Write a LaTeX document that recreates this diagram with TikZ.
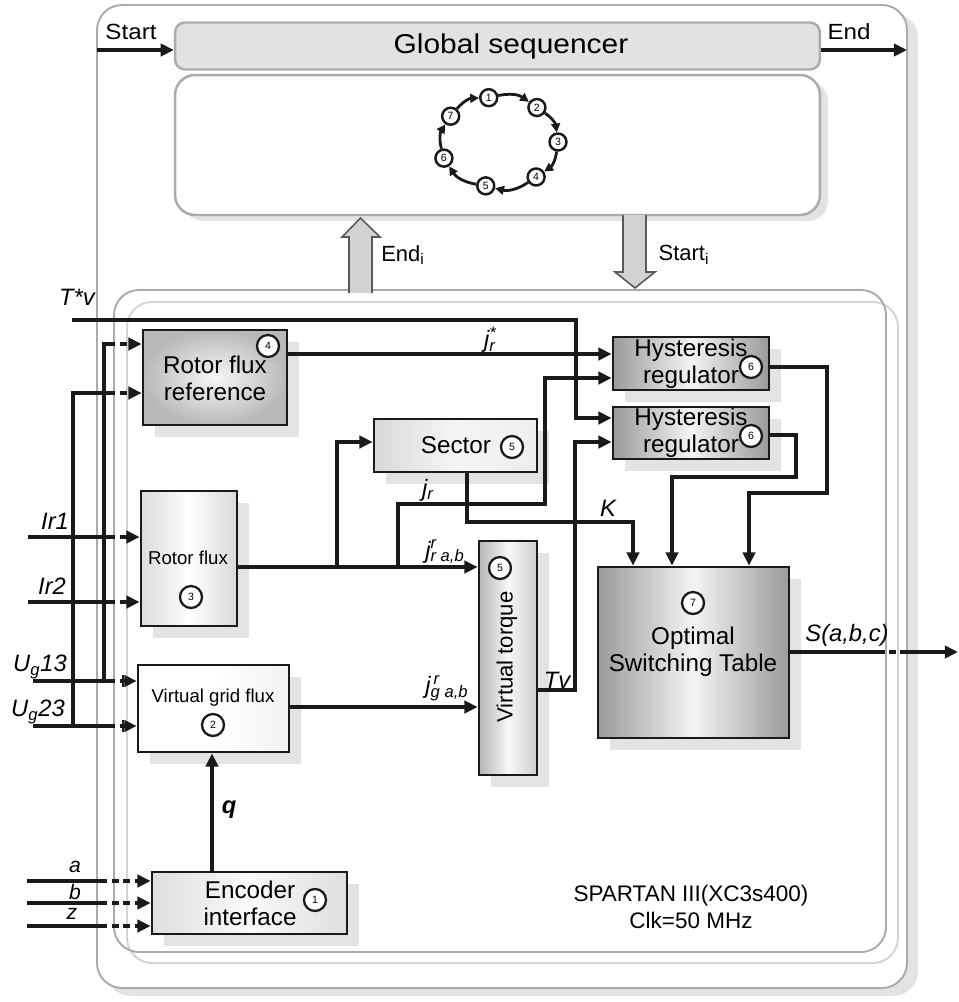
\documentclass[tikz,border=0pt]{standalone}
\usepackage{fontspec}
\setmainfont{Liberation Sans}
\newfontfamily\widesans{Liberation Sans}[FakeStretch=1.1]
\usetikzlibrary{arrows.meta,positioning,calc,shadows}
\definecolor{wirec}{HTML}{1A1A1A}
\definecolor{frgrey}{HTML}{ABABAB}
\definecolor{frlight}{HTML}{D4D4D4}
\definecolor{seqfill}{HTML}{E2E2E2}
\definecolor{boxdark}{HTML}{9A9A9A}
\definecolor{boxlight}{HTML}{F4F4F4}
\definecolor{shadowgrey}{HTML}{E3E3E3}
\definecolor{arrowfill}{HTML}{D2D2D2}

\begin{document}
\begin{tikzpicture}[x=0.02cm,y=-0.02cm,
  wire/.style={draw=wirec,line width=2.2pt},
  tip/.style={-{Triangle[length=7.5pt,width=7pt]}},
  bartip/.style={-{Bar[width=7pt,line width=1.1pt]Triangle[length=7pt,width=6.5pt]}},
  pass/.style={dash pattern=on 4pt off 2.6pt},
  frame/.style={line width=1.1pt,rounded corners=0.5cm},
  boxshadow/.style={drop shadow={shadow xshift=0.24cm,shadow yshift=-0.24cm,fill=shadowgrey,opacity=1}},
  darkbox/.style={draw=wirec,line width=1.6pt,left color=boxdark,right color=boxdark,middle color=boxlight,boxshadow},
  lightbox/.style={draw=wirec,line width=1.6pt,left color=gray!24,right color=gray!20,middle color=white,boxshadow},
  numc/.style={circle,draw=wirec,line width=1.3pt,fill=white,inner sep=0pt,minimum size=0.44cm,font=\fontsize{6}{6}\selectfont},
  seqc/.style={circle,draw=wirec,line width=1.4pt,fill=white,inner sep=0pt,minimum size=0.34cm,font=\fontsize{6}{6}\selectfont},
  blocktext/.style={align=center,inner sep=0pt,font=\fontsize{13.8}{15.4}\selectfont},
  smalltext/.style={align=center,inner sep=0pt,font=\fontsize{10.6}{12}\selectfont},
  sig/.style={inner sep=0pt,font=\fontsize{13.5}{14}\selectfont\itshape},
  cycarrow/.style={draw=wirec,line width=1.6pt,-{Triangle[length=5pt,width=5pt]}},
  fatarrow/.style={fill=arrowfill,draw=gray!70!black,line width=0.9pt},
]
\useasboundingbox (0,0) rectangle (959,1002);
% outer frame
\fill[shadowgrey,rounded corners=0.5cm] (106,13) rectangle (918,996);
\draw[frame,draw=frgrey,fill=white] (97,5) rectangle (907,988);

% global sequencer
\node[draw=frgrey,line width=1.4pt,fill=seqfill,rounded corners=0.2cm,minimum width=12.9cm,minimum height=0.94cm] (seq) at (497.5,46) {};
\node[font=\widesans\fontsize{15.5}{17}\selectfont] (seq-t) at (511,46) {Global sequencer};
\coordinate (startin) at (97,50);
\coordinate (endout) at (907,50);
\draw[wire,tip] (startin) -- (seq.west |- startin);
\draw[wire,tip] (seq.east |- endout) -- (endout);
\node[font=\widesans\fontsize{12.5}{14}\selectfont] (startlbl) at (131,32) {Start};
\node[font=\widesans\fontsize{12.5}{14}\selectfont] (endlbl) at (849,32) {End};

\node[draw=frgrey,line width=1.4pt,fill=white,rounded corners=0.4cm,minimum width=12.9cm,minimum height=2.8cm,
  drop shadow={shadow xshift=0.16cm,shadow yshift=-0.12cm,fill=shadowgrey,opacity=1}] (cyc) at (497.5,145) {};

% sequence cycle
\foreach \i/\a in {1/100,2/50,3/0,4/-51,5/-103,6/201,7/145}
  \node[seqc] (c\i) at ({499+59*cos(\a)},{142-45*sin(\a)}) {\i};
\foreach \i/\j in {1/2,2/3,3/4,4/5,5/6,6/7,7/1}
  \draw[cycarrow] (c\i) to[bend left=24] (c\j);

% inner frames
\draw[frame,draw=frlight] (127,302) rectangle (898,963);
\draw[frame,draw=frgrey] (114,290) rectangle (886,952);

% End_i / Start_i
\filldraw[fatarrow] (349,293) -- (349,237) -- (342,237) -- (360.5,218) -- (380,237) -- (372,237) -- (372,293);
\filldraw[fatarrow] (623,215) -- (623,272) -- (615,272) -- (635,288) -- (655,272) -- (646,272) -- (646,215);
\node[font=\fontsize{12.5}{13}\selectfont] (endi) at (403,255) {End\textsubscript{i}};
\node[font=\fontsize{12.5}{13}\selectfont] (starti) at (684,255) {Start\textsubscript{i}};

% blocks
\node[draw=wirec,line width=1.6pt,inner color=white!94!gray,outer color=gray!55,boxshadow,
  minimum width=2.88cm,minimum height=1.9cm] (rfr) at (215,377.5) {};
\node[darkbox,minimum width=3.12cm,minimum height=1.06cm] (hys1) at (691,363.5) {};
\node[darkbox,minimum width=3.12cm,minimum height=1.04cm] (hys2) at (691,433) {};
\node[lightbox,left color=gray!30,right color=gray!14,middle color=gray!8,minimum width=3.26cm,minimum height=1.06cm] (sector) at (455.5,445.5) {};
\node[lightbox,left color=gray!28,right color=gray!30,middle color=white,minimum width=1.92cm,minimum height=2.7cm] (rf) at (189,558.5) {};
\node[lightbox,left color=white,right color=gray!10,middle color=white,minimum width=3.02cm,minimum height=1.74cm] (vgf) at (213.5,708.5) {};
\node[darkbox,left color=gray!58,right color=gray!38,middle color=gray!6,minimum width=1.16cm,minimum height=4.68cm] (vt) at (508,658) {};
\node[darkbox,minimum width=3.82cm,minimum height=3.42cm] (ost) at (693.5,652.5) {};
\node[lightbox,left color=gray!26,right color=gray!26,middle color=gray!4,minimum width=3.9cm,minimum height=1.24cm] (enc) at (249.5,903) {};

% block texts and numbers
\node[blocktext] (rfr-t) at (215,378) {Rotor flux\\reference};
\node[numc] (n4) at (268,346) {4};
\node[blocktext] (hys1-t) at (691,364) {Hysteresis\\regulator};
\node[numc] (n6a) at (751,367) {6};
\node[blocktext] (hys2-t) at (691,433) {Hysteresis\\regulator};
\node[numc] (n6b) at (751,436) {6};
\node[blocktext] (sector-t) at (456,445) {Sector};
\node[numc] (n5a) at (512,447) {5};
\node[smalltext] (rf-t) at (188,558) {Rotor flux};
\node[numc] (n3) at (191,597) {3};
\node[smalltext] (vgf-t) at (213,698) {Virtual grid flux};
\node[numc] (n2) at (213,725) {2};
\node[blocktext,font=\fontsize{12.6}{14}\selectfont,rotate=90] (vt-t) at (507,657) {Virtual torque};
\node[numc] (n5b) at (500,568) {5};
\node[numc] (n7) at (693,603) {7};
\node[blocktext] (ost-t) at (693,652) {Optimal\\Switching Table};
\node[blocktext] (enc-t) at (250,903) {Encoder\\interface};
\node[numc] (n1) at (315,900) {1};
\node[blocktext,font=\fontsize{12.8}{15}\selectfont] (fpga) at (691,907) {SPARTAN III(XC3s400)\\Clk=50 MHz};

% inputs
\coordinate (tvin) at (72,320);
\coordinate (ir1in) at (28,537);
\coordinate (ir2in) at (28,602);
\coordinate (ug13in) at (33,681);
\coordinate (ug23in) at (33,726);
\coordinate (ain) at (27,881);
\coordinate (bin) at (27,903);
\coordinate (zin) at (27,926);
\coordinate (busa) at (73,726);
\coordinate (busb) at (104,681);
\coordinate (sout) at (958,652);

\foreach \src/\dst/\x in {ir1in/rf/108,ir2in/rf/108,ain/enc/100,bin/enc/100,zin/enc/100}{
  \draw[wire] (\src) -- (\src -| \x,0);
  \draw[wire,pass,tip] (\src -| \x,0) -- (\src -| \dst.west);
}
\foreach \src in {ug13in,ug23in}{
  \draw[wire] (\src) -- (\src -| 108,0);
  \draw[wire,pass,bartip] (\src -| 108,0) -- (\src -| vgf.west);
}
\draw[wire] (busa) |- (108,393);
\draw[wire,pass,tip] (108,393) -- (rfr.west |- 0,393);
\draw[wire] (busb) |- (108,344);
\draw[wire,pass,tip] (108,344) -- (rfr.west |- 0,344);

% signal paths
\draw[wire,tip] (tvin) -| (576,418) -- (hys2.west |- 0,418);
\draw[wire,tip] (rfr.east |- 0,354) -- (hys1.west |- 0,354);
\draw[wire,tip] (rf.east |- 0,567) -- (vt.west |- 0,567);
\draw[wire,tip] (337,567) |- (sector.west |- 0,442);
\draw[wire,tip] (398,567) |- (545,504) |- (hys1.west |- 0,378);
\draw[wire,tip] (sector.south -| 467,0) |- (633,522) -- (ost.north -| 633,0);
\draw[wire,tip] (vt.east |- 0,690) -| (575,442) -- (hys2.west |- 0,442);
\draw[wire,tip] (hys1.east |- 0,367) -| (827,493) -| (ost.north -| 749,0);
\draw[wire,tip] (hys2.east |- 0,435) -| (796,477) -| (ost.north -| 672,0);
\draw[wire,tip] (vgf.east |- 0,707) -- (vt.west |- 0,707);
\draw[wire,tip] (enc.north -| 212,0) -- (vgf.south -| 212,0);
\draw[wire] (ost.east |- 0,652) -- (885,652);
\draw[wire] (889,652) -- (896,652);
\draw[wire,tip] (900,652) -- (sout);

% signal labels
\node[sig] (tv-l) at (77,297) {T*v};
\node[sig] (ir1-l) at (55,521) {Ir1};
\node[sig] (ir2-l) at (52,586) {Ir2};
\node[sig] (ug13-l) at (40,667) {U\textsubscript{g}13};
\node[sig] (ug23-l) at (38,712) {U\textsubscript{g}23};
\node[sig,font=\fontsize{12}{13}\selectfont\itshape] (a-l) at (75,867) {a};
\node[sig,font=\fontsize{12}{13}\selectfont\itshape] (b-l) at (75,892) {b};
\node[sig,font=\fontsize{12}{13}\selectfont\itshape] (z-l) at (72,914) {z};
\node[sig] (jrs-l) at (490,340) {j\rlap{\textsuperscript{*}}\textsubscript{r}};
\node[sig] (jr-l) at (428,490) {j\textsubscript{r}};
\node[sig] (k-l) at (608,508) {K};
\node[sig] (jrab-l) at (445,552) {j\rlap{\textsuperscript{r}}\textsubscript{r a,b}};
\node[sig] (jgab-l) at (447,688) {j\rlap{\textsuperscript{\,r}}\textsubscript{g a,b}};
\node[sig] (tv2-l) at (557,680) {Tv};
\node[sig] (s-l) at (847,635) {S(a,b,c)};
\node[sig,font=\fontsize{13.5}{14}\selectfont\bfseries\itshape] (q-l) at (229,810) {q};
\end{tikzpicture}
\end{document}
